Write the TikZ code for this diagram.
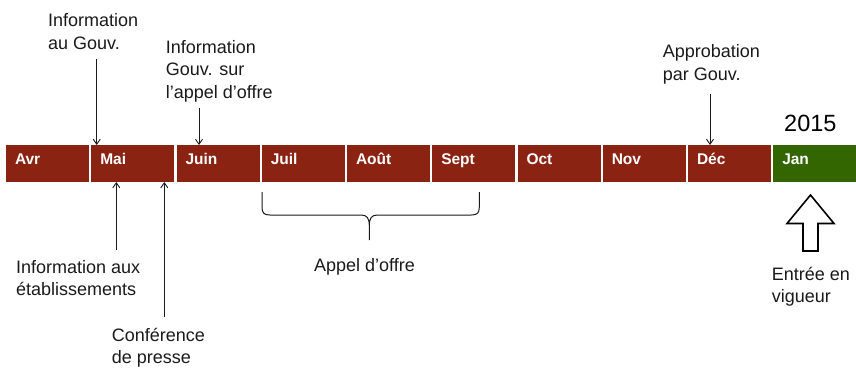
\documentclass[tikz,border=0pt]{standalone}
\usepackage{fontspec}
\setmainfont{Liberation Sans}
\usepackage{tikz}
\usetikzlibrary{arrows.meta,positioning}
\usepackage{xcolor}
\definecolor{monthred}{HTML}{8B2313}
\definecolor{yeargreen}{HTML}{336600}
\definecolor{inkgray}{HTML}{1A1A1A}
\newcommand{\notefont}{\fontsize{18}{22.5}\selectfont}
\newcommand{\monthfont}{\fontsize{15.5}{18}\selectfont\bfseries}
\newcommand{\yearfont}{\fontsize{23.5}{28}\selectfont}

\begin{document}
\begin{tikzpicture}[
 x=1pt,y=-1pt,
 month/.style={fill=monthred,text=white,font=\monthfont,minimum width=83pt,minimum height=37pt,
   inner xsep=9pt,inner ysep=0pt,outer sep=0pt,text width=65pt,align=left,text height=11pt,text depth=9.5pt},
 note/.style={align=left,inner sep=0pt,anchor=north west,font=\notefont,text=inkgray},
 pointer/.style={-{Straight Barb[length=5pt,width=7pt]},line width=0.9pt,draw=inkgray},
 brace/.style={line width=1pt,draw=inkgray},
 bigarrow/.style={line width=1.6pt,draw=black,line join=miter}
]
\useasboundingbox (0,0) rectangle (856,367);

% months
\node[month,anchor=north west] (avr) at (6,145) {Avr};
\node[month,right=2.25pt of avr] (mai) {Mai};
\node[month,right=2.25pt of mai] (juin) {Juin};
\node[month,right=2.25pt of juin] (juil) {Juil};
\node[month,right=2.25pt of juil] (aout) {Août};
\node[month,right=2.25pt of aout] (sept) {Sept};
\node[month,right=2.25pt of sept] (oct) {Oct};
\node[month,right=2.25pt of oct] (nov) {Nov};
\node[month,right=2.25pt of nov] (dec) {Déc};
\node[month,fill=yeargreen,right=2.25pt of dec] (jan) {Jan};
\node[anchor=base west,inner sep=0pt,font=\yearfont] (year) at (784,131.7) {2015};

% events above
\node[note] (infogouv) at (48,13.5) {Information\\au Gouv.};
\node[note] (infoappel) at (165.7,40.1) {Information\\Gouv. sur\\l’appel d’offre};
\node[note] (approb) at (662.7,44.3) {Approbation\\par Gouv.};
\coordinate (gouvfoot) at (96.7,59);
\coordinate (appelfoot) at (199,108);
\coordinate (approbfoot) at (710,94);
\draw[pointer] (gouvfoot) -- (gouvfoot |- mai.north);
\draw[pointer] (appelfoot) -- (appelfoot |- juin.north);
\draw[pointer] (approbfoot) -- (approbfoot |- dec.north);

% events below
\node[note] (infoetab) at (16,260.1) {Information aux\\établissements};
\node[note] (conf) at (111.7,327.7) {Conférence\\de presse};
\coordinate (etabhead) at (116.3,250);
\coordinate (confhead) at (164.3,316.7);
\draw[pointer] (etabhead) -- (etabhead |- mai.south);
\draw[pointer] (confhead) -- (confhead |- mai.south);

% appel d'offre brace
\coordinate (braceleft) at (262,192);
\coordinate (braceright) at (479.3,192);
\coordinate (bracetip) at (369.3,240);
\draw[brace] (braceleft) -- (262,207) .. controls (262,213) and (264,215) .. (270,215)
  -- (361,215) .. controls (367,215) and (369.3,218) .. (369.3,226) -- (bracetip)
  -- (369.3,226) .. controls (369.3,218) and (371.6,215) .. (377.6,215)
  -- (471.3,215) .. controls (477.3,215) and (479.3,213) .. (479.3,207) -- (braceright);
\node[anchor=base west,inner sep=0pt,font=\notefont,text=inkgray] (appel) at (314,271.7) {Appel d’offre};

% entree en vigueur
\draw[bigarrow] (810.5,195) -- (834,223.5) -- (818,223.5) -- (818,251) -- (803,251)
  -- (803,223.5) -- (787,223.5) -- cycle;
\node[note] (entree) at (771.7,266.7) {Entrée en\\vigueur};
\end{tikzpicture}
\end{document}
